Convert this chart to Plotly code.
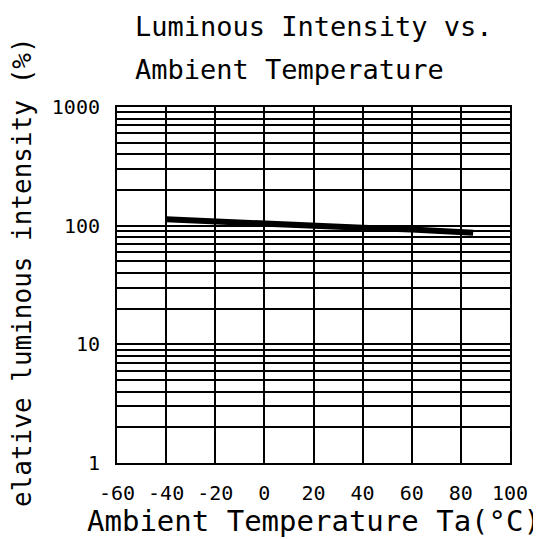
import plotly.graph_objects as go

# Data
temperature_c = [-40, -20, 0, 20, 40, 60, 80, 85]
relative_intensity_pct = [113, 108, 103, 100, 96, 93, 89, 87]

x_ticks = [-60, -40, -20, 0, 20, 40, 60, 80, 100]
y_ticks = [1, 10, 100, 1000]
y_minor = [m * d for d in (1, 10, 100) for m in range(2, 10)]

title_line1 = "Luminous Intensity vs."
title_line2 = "Ambient Temperature"
x_title = "Ambient Temperature Ta(°C)"
y_title = "elative luminous intensity (%)"

# The page body has an 8px default margin; work in window pixels and shift.
OFF = 8
W, H = 541 - OFF, 539 - OFF
L, T = 117 - OFF, 107 - OFF
PW, PH = 393, 356
R, B = W - L - PW, H - T - PH

def px_x(x):
    return (x - OFF - L) / PW

def px_y(y):
    return (T + PH - (y - OFF)) / PH

MONO = "DejaVu Sans Mono"

fig = go.Figure()
fig.add_trace(go.Scatter(
    x=temperature_c, y=relative_intensity_pct, mode="lines",
    line=dict(color="black", width=6), showlegend=False, hoverinfo="skip",
))

fig.update_xaxes(
    range=[-60, 100], tickvals=x_ticks, ticktext=[str(v) for v in x_ticks],
    showgrid=True, gridcolor="black", gridwidth=2,
    showline=True, linecolor="black", linewidth=2, mirror=True,
    zeroline=False, ticks="", ticklabelstandoff=11,
    tickfont=dict(family=MONO, size=20, color="black"),
)
fig.update_yaxes(
    type="log", range=[0, 3], tickvals=y_ticks, ticktext=[str(v) for v in y_ticks],
    showgrid=True, gridcolor="black", gridwidth=2,
    minor=dict(tickvals=y_minor, showgrid=True, gridcolor="black", gridwidth=2, ticks=""),
    showline=True, linecolor="black", linewidth=2, mirror=True,
    zeroline=False, ticks="", ticklabelstandoff=11,
    tickfont=dict(family=MONO, size=20, color="black"),
)

annos = [
    dict(text=title_line1, x=px_x(133), y=px_y(27), xanchor="left", yanchor="middle",
         font=dict(family=MONO, size=27, color="black")),
    dict(text=title_line2, x=px_x(133), y=px_y(70), xanchor="left", yanchor="middle",
         font=dict(family=MONO, size=27, color="black")),
    dict(text=x_title, x=px_x(85), y=px_y(521), xanchor="left", yanchor="middle",
         font=dict(family=MONO, size=29, color="black")),
    dict(text=y_title, x=px_x(22), y=px_y(272), xanchor="center", yanchor="middle",
         textangle=-90, font=dict(family=MONO, size=26, color="black")),
]
for a in annos:
    a.update(xref="paper", yref="paper", showarrow=False)
fig.update_layout(
    width=W, height=H, margin=dict(l=L, r=R, t=T, b=B, autoexpand=False),
    paper_bgcolor="white", plot_bgcolor="white", annotations=annos,
)

fig.write_html("out.html")
